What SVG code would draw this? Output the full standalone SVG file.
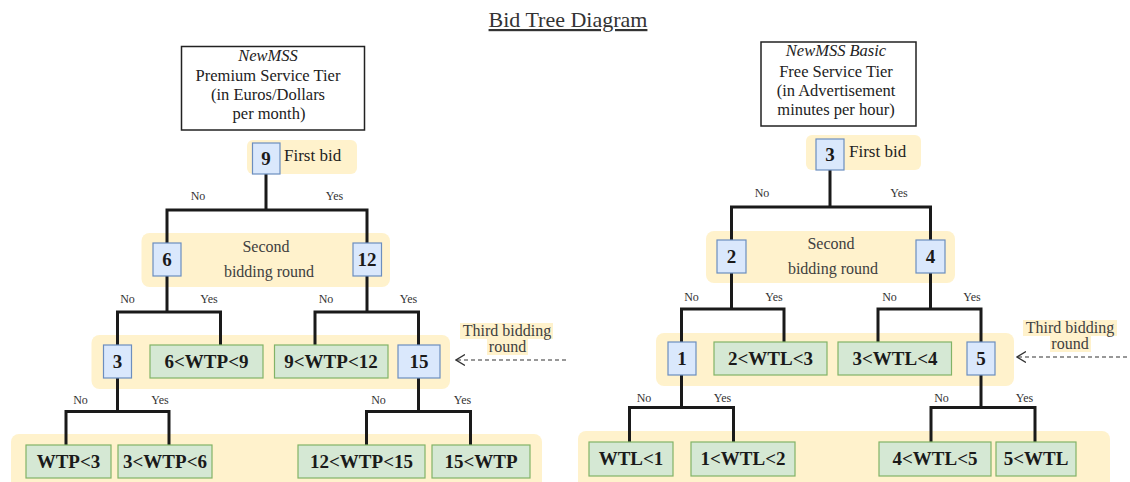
<svg xmlns="http://www.w3.org/2000/svg" width="1130" height="482" viewBox="0 0 1130 482" font-family="'Liberation Serif', 'DejaVu Serif', serif">
<defs>
<style>
text{font-family:'Liberation Serif','DejaVu Serif',serif;fill:#222}
.title{font-size:22px;fill:#333;text-decoration:underline}
.hdr{font-size:16.5px;text-anchor:middle;fill:#222}
.it{font-style:italic}
.hl{fill:#fff2cc;stroke:none}
.blue{fill:#dae8fc;stroke:#6c8ebf;stroke-width:1.2}
.green{fill:#d5e8d4;stroke:#82b366;stroke-width:1.2}
.val{font-size:19px;font-weight:bold;text-anchor:middle;fill:#1a1a1a}
.lbl{font-size:12px;text-anchor:middle;fill:#333}
.round{font-size:16px;text-anchor:middle;fill:#404040}
.third{font-size:16px;text-anchor:middle;fill:#404040}
.fb{font-size:17px;fill:#222}
.conn{fill:none;stroke:#1a1a1a;stroke-width:3}
.dash{fill:none;stroke:#333;stroke-width:1.1;stroke-dasharray:4 3}
</style>
<marker id="open" viewBox="0 0 10 12" refX="9" refY="6" markerWidth="10" markerHeight="12" markerUnits="userSpaceOnUse" orient="auto">
<path d="M0,0.5 L9,6 L0,11.5" fill="none" stroke="#333" stroke-width="1.3"/>
</marker>
</defs>
<rect width="1130" height="482" fill="#ffffff"/>
<text class="title" x="568" y="27" text-anchor="middle">Bid Tree Diagram</text>

<!-- background highlights -->
<g id="highlights">
<rect class="hl" x="247" y="140" width="110" height="34" rx="6"/>
<rect class="hl" x="141.5" y="233" width="248.5" height="54" rx="8"/>
<rect class="hl" x="91.5" y="335" width="358.5" height="54" rx="8"/>
<rect class="hl" x="11" y="434" width="531" height="60" rx="8"/>
<rect class="hl" x="460" y="323" width="93" height="16"/>
<rect class="hl" x="487" y="339" width="41" height="16"/>
<rect class="hl" x="806" y="135" width="115" height="35" rx="6"/>
<rect class="hl" x="706" y="231" width="249" height="52" rx="8"/>
<rect class="hl" x="656" y="333" width="358" height="53" rx="8"/>
<rect class="hl" x="578" y="431" width="532" height="60" rx="8"/>
<rect class="hl" x="1023" y="320" width="94" height="16"/>
<rect class="hl" x="1050" y="336" width="41" height="16"/>
</g>

<!-- connectors -->
<g id="connectors">
<path class="conn" d="M266,174 V210 M167,243 V210 H367 V243"/>
<path class="conn" d="M167,276 V312 M117.5,345 V312 H220.5 V345"/>
<path class="conn" d="M367,276 V312 M315,345 V312 H418.5 V345"/>
<path class="conn" d="M117.5,378 V411.5 M66,445 V411.5 H169 V445"/>
<path class="conn" d="M418.5,378 V411.5 M366.5,445 V411.5 H470.5 V445"/>
<path class="conn" d="M830,170 V207 M731.5,240 V207 H930.5 V240"/>
<path class="conn" d="M731.5,273 V309 M681.5,342 V309 H784 V342"/>
<path class="conn" d="M930.5,273 V309 M878,342 V309 H981 V342"/>
<path class="conn" d="M681.5,375 V407.5 M629.5,442 V407.5 H733.5 V442"/>
<path class="conn" d="M981,375 V407.5 M931,442 V407.5 H1035 V442"/>
<line class="dash" x1="566" y1="360" x2="456" y2="360" marker-end="url(#open)"/>
<line class="dash" x1="1134" y1="357" x2="1017" y2="357" marker-end="url(#open)"/>
<text class="lbl" x="198" y="200">No</text>
<text class="lbl" x="334.5" y="200">Yes</text>
<text class="lbl" x="127.5" y="303">No</text>
<text class="lbl" x="209" y="303">Yes</text>
<text class="lbl" x="326" y="303">No</text>
<text class="lbl" x="408.5" y="303">Yes</text>
<text class="lbl" x="80.5" y="404">No</text>
<text class="lbl" x="160" y="404">Yes</text>
<text class="lbl" x="378.5" y="404">No</text>
<text class="lbl" x="462.5" y="404">Yes</text>
<text class="lbl" x="762" y="197">No</text>
<text class="lbl" x="899" y="197">Yes</text>
<text class="lbl" x="691.5" y="301">No</text>
<text class="lbl" x="774" y="301">Yes</text>
<text class="lbl" x="889.5" y="301">No</text>
<text class="lbl" x="972" y="301">Yes</text>
<text class="lbl" x="644" y="402">No</text>
<text class="lbl" x="722.5" y="402">Yes</text>
<text class="lbl" x="941.5" y="402">No</text>
<text class="lbl" x="1024.5" y="402">Yes</text>
</g>

<!-- round captions -->
<g id="captions">
<text class="fb" x="284" y="161">First bid</text>
<text class="round" x="266" y="252">Second</text>
<text class="round" x="269" y="277">bidding round</text>
<text class="third" x="507" y="335.5">Third bidding</text>
<text class="third" x="507.5" y="352">round</text>
<text class="fb" x="849" y="157">First bid</text>
<text class="round" x="831" y="249">Second</text>
<text class="round" x="833" y="274">bidding round</text>
<text class="third" x="1070" y="332.5">Third bidding</text>
<text class="third" x="1070" y="349">round</text>
</g>

<!-- left tree -->
<g id="header-premium">
<rect x="181.5" y="46.5" width="183" height="83.5" fill="#fff" stroke="#222" stroke-width="1.5"/>
<text class="hdr it" x="268" y="61">NewMSS</text>
<text class="hdr" x="268" y="80.5">Premium Service Tier</text>
<text class="hdr" x="268" y="100">(in Euros/Dollars</text>
<text class="hdr" x="269" y="119">per month)</text>
</g>
<g id="node-9"><rect class="blue" x="252.5" y="143" width="27.5" height="31"/><text class="val" x="266" y="165">9</text></g>
<g id="node-6"><rect class="blue" x="153" y="243" width="28" height="33"/><text class="val" x="167" y="266">6</text></g>
<g id="node-12"><rect class="blue" x="353" y="243" width="28.5" height="33"/><text class="val" x="367" y="266">12</text></g>
<g id="node-3-left"><rect class="blue" x="103.5" y="345" width="28" height="33"/><text class="val" x="117.5" y="368">3</text></g>
<g id="node-6-9"><rect class="green" x="150" y="345" width="113" height="33"/><text class="val" x="206.5" y="368">6&lt;WTP&lt;9</text></g>
<g id="node-9-12"><rect class="green" x="274.5" y="345" width="113.5" height="33"/><text class="val" x="331" y="368">9&lt;WTP&lt;12</text></g>
<g id="node-15"><rect class="blue" x="398" y="345" width="42" height="33"/><text class="val" x="419" y="368">15</text></g>
<g id="node-wtp-3"><rect class="green" x="26" y="445" width="85" height="33"/><text class="val" x="68.5" y="468">WTP&lt;3</text></g>
<g id="node-3-6"><rect class="green" x="118" y="445" width="94" height="33"/><text class="val" x="165" y="468">3&lt;WTP&lt;6</text></g>
<g id="node-12-15"><rect class="green" x="298" y="445" width="127" height="33"/><text class="val" x="361.5" y="468">12&lt;WTP&lt;15</text></g>
<g id="node-15-wtp"><rect class="green" x="432" y="445" width="98" height="33"/><text class="val" x="481" y="468">15&lt;WTP</text></g>

<!-- right tree -->
<g id="header-basic">
<rect x="761" y="42" width="155" height="84" fill="#fff" stroke="#222" stroke-width="1.5"/>
<text class="hdr it" x="836" y="56">NewMSS Basic</text>
<text class="hdr" x="836" y="76.5">Free Service Tier</text>
<text class="hdr" x="836" y="95.5">(in Advertisement</text>
<text class="hdr" x="836" y="115">minutes per hour)</text>
</g>
<g id="node-3-right"><rect class="blue" x="816" y="139" width="28" height="31"/><text class="val" x="830" y="161">3</text></g>
<g id="node-2"><rect class="blue" x="717" y="240" width="29" height="33"/><text class="val" x="731.5" y="263">2</text></g>
<g id="node-4"><rect class="blue" x="916" y="240" width="29" height="33"/><text class="val" x="930.5" y="263">4</text></g>
<g id="node-1"><rect class="blue" x="668" y="342" width="28" height="33"/><text class="val" x="682" y="365">1</text></g>
<g id="node-2-3"><rect class="green" x="714" y="342" width="113" height="33"/><text class="val" x="770.5" y="365">2&lt;WTL&lt;3</text></g>
<g id="node-3-4"><rect class="green" x="838" y="342" width="113.5" height="33"/><text class="val" x="895" y="365">3&lt;WTL&lt;4</text></g>
<g id="node-5"><rect class="blue" x="967" y="342" width="28" height="33"/><text class="val" x="981" y="365">5</text></g>
<g id="node-wtl-1"><rect class="green" x="589" y="442" width="84" height="34"/><text class="val" x="631" y="465">WTL&lt;1</text></g>
<g id="node-1-2"><rect class="green" x="691" y="442" width="104" height="34"/><text class="val" x="743" y="465">1&lt;WTL&lt;2</text></g>
<g id="node-4-5"><rect class="green" x="879" y="442" width="112" height="34"/><text class="val" x="935" y="465">4&lt;WTL&lt;5</text></g>
<g id="node-5-wtl"><rect class="green" x="996" y="442" width="80" height="34"/><text class="val" x="1036" y="465">5&lt;WTL</text></g>
</svg>
